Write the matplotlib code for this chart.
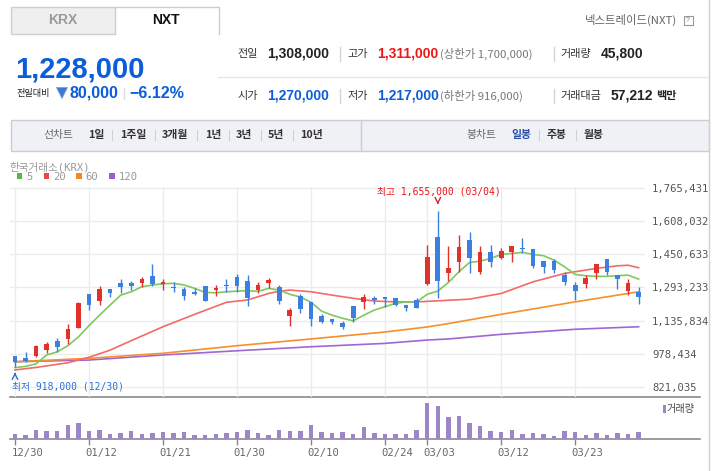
import matplotlib
matplotlib.use('Agg')
import matplotlib.pyplot as plt
import matplotlib.transforms as mtransforms
from matplotlib.patches import Rectangle, Polygon

# ---- data (KRX daily candles) ----
dates = ['12/30', '01/02', '01/05', '01/06', '01/07', '01/08', '01/09', '01/12',
         '01/13', '01/14', '01/15', '01/16', '01/19', '01/20', '01/21', '01/22',
         '01/23', '01/26', '01/27', '01/28', '01/29', '01/30', '02/02', '02/03',
         '02/04', '02/05', '02/06', '02/09', '02/10', '02/11', '02/12', '02/13',
         '02/19', '02/20', '02/23', '02/24', '02/25', '02/26', '02/27', '03/03',
         '03/04', '03/05', '03/06', '03/09', '03/10', '03/11', '03/12', '03/13',
         '03/16', '03/17', '03/18', '03/19', '03/20', '03/23', '03/24', '03/25',
         '03/26', '03/27', '03/30', '03/31']
opens = [968, 958, 969, 996, 1040, 1049, 1102, 1262, 1230, 1286, 1314, 1316, 1316, 1347, 1309,
         1297, 1286, 1273, 1300, 1281, 1306, 1344, 1324, 1281, 1316, 1295, 1159, 1252, 1225, 1158,
         1143, 1124, 1205, 1225, 1242, 1248, 1242, 1210, 1232, 1308, 1534, 1363, 1415, 1518, 1368,
         1460, 1431, 1462, 1479, 1475, 1418, 1418, 1352, 1305, 1309, 1363, 1428, 1352, 1278, 1270]
highs = [970, 986, 1020, 1034, 1053, 1120, 1225, 1262, 1300, 1286, 1333, 1324, 1344, 1406, 1333,
         1317, 1295, 1293, 1300, 1305, 1333, 1355, 1352, 1317, 1339, 1305, 1194, 1262, 1225, 1166,
         1143, 1134, 1205, 1262, 1254, 1248, 1242, 1210, 1242, 1494, 1655, 1489, 1541, 1558, 1489,
         1497, 1479, 1491, 1526, 1475, 1418, 1428, 1365, 1317, 1352, 1404, 1428, 1352, 1332, 1294]
lows = [918, 941, 965, 984, 988, 1023, 1099, 1186, 1210, 1249, 1268, 1282, 1295, 1298, 1282,
        1273, 1235, 1260, 1230, 1254, 1270, 1273, 1206, 1267, 1289, 1213, 1112, 1173, 1112, 1126,
        1121, 1097, 1131, 1192, 1216, 1199, 1206, 1181, 1197, 1305, 1244, 1324, 1368, 1363, 1355,
        1391, 1428, 1413, 1455, 1387, 1363, 1363, 1305, 1233, 1292, 1333, 1352, 1286, 1260, 1216]
closes = [941, 946, 1015, 1025, 1012, 1096, 1221, 1211, 1286, 1268, 1295, 1300, 1333, 1311, 1319,
          1292, 1254, 1263, 1230, 1290, 1301, 1301, 1242, 1305, 1330, 1230, 1186, 1192, 1145, 1129,
          1129, 1105, 1147, 1246, 1233, 1240, 1211, 1196, 1197, 1439, 1324, 1384, 1486, 1434, 1460,
          1413, 1467, 1491, 1475, 1395, 1391, 1376, 1320, 1278, 1336, 1404, 1368, 1333, 1313, 1249]
volumes = [100, 80, 180, 160, 160, 280, 320, 160, 180, 100, 120, 160, 100, 120, 140, 120, 140, 80,
           80, 100, 120, 140, 180, 120, 80, 180, 160, 160, 280, 140, 120, 140, 100, 240, 120, 100,
           100, 100, 180, 720, 660, 440, 460, 320, 260, 160, 140, 180, 100, 120, 100, 60, 160, 140,
           80, 120, 80, 120, 100, 140]

ma5 = [913, 919, 931, 973, 988, 1017, 1059, 1112, 1162, 1210, 1257, 1273, 1297, 1305, 1311,
       1313, 1305, 1289, 1270, 1268, 1273, 1276, 1278, 1275, 1289, 1281, 1261, 1248, 1223, 1181,
       1162, 1147, 1135, 1162, 1186, 1202, 1218, 1225, 1225, 1261, 1276, 1317, 1368, 1412, 1418,
       1431, 1450, 1455, 1460, 1450, 1444, 1423, 1391, 1355, 1349, 1346, 1346, 1349, 1352, 1333]
ma20_idx = [0, 2, 5, 7, 9, 11, 14, 17, 20, 22, 24, 25, 26, 28, 30, 32, 34, 36, 38, 40, 43, 46,
            49, 52, 55, 57, 58, 59]
ma20 = [902, 914, 936, 962, 996, 1041, 1107, 1166, 1223, 1234, 1265, 1276, 1281, 1273, 1257,
        1242, 1229, 1225, 1225, 1230, 1238, 1265, 1320, 1360, 1384, 1396, 1399, 1387]
ma60_idx = [0, 7, 14, 21, 28, 35, 39, 41, 46, 53, 59]
ma60 = [941, 957, 981, 1017, 1049, 1082, 1106, 1122, 1166, 1225, 1273]
ma120_idx = [0, 7, 14, 21, 28, 35, 39, 41, 46, 53, 59]
ma120 = [941, 949, 973, 993, 1012, 1028, 1044, 1049, 1071, 1095, 1107]

price_ticks = [821035, 978434, 1135834, 1293233, 1450633, 1608032, 1765431]
date_tick_idx = [0, 7, 14, 21, 28, 35, 39, 46, 53]

W, H = 715, 471
BLUE = '#0b5ed7'
RED = '#f01414'
C_UP = '#e2302a'
C_DN = '#3b80e0'
SANS = ['Liberation Sans', 'Noto Sans CJK KR']
KR = ['Noto Sans CJK KR', 'DejaVu Sans']
MONO = ['DejaVu Sans Mono', 'Noto Sans CJK KR']

fig = plt.figure(figsize=(W / 100, H / 100), dpi=100)


def box(x0, y0, x1, y1):
    return [x0 / W, 1 - y1 / H, (x1 - x0) / W, (y1 - y0) / H]


bg = fig.add_axes([0, 0, 1, 1])
bg.set_xlim(0, W)
bg.set_ylim(H, 0)
bg.axis('off')

# ---- tabs ----
bg.add_patch(Rectangle((10.5, 6.5), 104.5, 27, fc='#efefef', ec='#cdcdcd', lw=1))
bg.plot([115, 218.5, 218.5], [6.5, 6.5, 33.5], color='#cdcdcd', lw=1)
bg.text(63, 20, 'KRX', ha='center', va='center', fontsize=10, fontweight='bold',
        color='#9a9a9a', family=SANS)
bg.text(166, 20, 'NXT', ha='center', va='center', fontsize=10, fontweight='bold',
        color='#111', family=SANS)
bg.text(677, 20, '넥스트레이드(NXT)', ha='right', va='center', fontsize=8.2,
        color='#666', family=KR)
bg.add_patch(Rectangle((683.5, 15.5), 9, 9, fc='white', ec='#999', lw=0.8))
bg.text(688, 20.3, '?', ha='center', va='center', fontsize=5, color='#777', family=SANS)
bg.plot([708.5, 708.5], [0, H], color='#d0d0d0', lw=1)
bg.plot([218, 708], [76.5, 76.5], color='#e6e6e6', lw=1)

# ---- current price ----
bg.text(15, 78, '1,228,000', ha='left', va='baseline', fontsize=21, fontweight='bold',
        color=BLUE, family=SANS)
bg.text(17, 93.5, '전일대비', ha='left', va='center', fontsize=6.6, color='#222', family=KR)
bg.add_patch(Polygon([[56.5, 87.5], [67.5, 87.5], [62, 98.5]], closed=True, fc='#3d78d8',
                     ec='#7aa0e0', lw=0.6))
bg.text(69, 93.5, '80,000', ha='left', va='center', fontsize=11.5, fontweight='bold',
        color=BLUE, family=SANS)
bg.plot([124, 124], [88, 99], color='#dddddd', lw=1)
bg.text(129, 93.5, '\u22126.12%', ha='left', va='center', fontsize=11.5, fontweight='bold',
        color=BLUE, family=SANS)

# ---- quote table ----
rows = [
    (54, [('전일', 237, '#333', 'normal', KR, 8), ('1,308,000', 267, '#222', 'bold', SANS, 10),
          ('고가', 347, '#333', 'normal', KR, 8), ('1,311,000', 377, RED, 'bold', SANS, 10),
          ('(상한가 1,700,000)', 440, '#777', 'normal', KR, 8.2),
          ('거래량', 560, '#333', 'normal', KR, 8), ('45,800', 601, '#222', 'bold', SANS, 10)]),
    (96, [('시가', 237, '#333', 'normal', KR, 8), ('1,270,000', 267, BLUE, 'bold', SANS, 10),
          ('저가', 347, '#333', 'normal', KR, 8), ('1,217,000', 377, BLUE, 'bold', SANS, 10),
          ('(하한가 916,000)', 440, '#777', 'normal', KR, 8.2),
          ('거래대금', 560, '#333', 'normal', KR, 8), ('57,212', 611, '#222', 'bold', SANS, 10),
          ('백만', 656, '#222', 'bold', KR, 8)]),
]
for y, items in rows:
    for txt, x, col, wt, fam, fs in items:
        bg.text(x, y, txt, ha='left', va='center', fontsize=fs, fontweight=wt, color=col,
                family=fam)
    for sx in (340, 554):
        bg.plot([sx, sx], [y - 7, y + 7], color='#d5d5d5', lw=1)

# ---- toolbar ----
bg.add_patch(Rectangle((10.5, 119.5), 698, 31, fc='#f0f1f5', ec='#c9ccd4', lw=1))
bg.plot([361, 361], [119.5, 150.5], color='#c9ccd4', lw=1)
bg.text(43, 135, '선차트', ha='left', va='center', fontsize=7.8, color='#666', family=KR)
left_items = [('1일', 88), ('1주일', 120), ('3개월', 162), ('1년', 205), ('3년', 236),
              ('5년', 268), ('10년', 300)]
for k, (txt, x) in enumerate(left_items):
    bg.text(x, 135, txt, ha='left', va='center', fontsize=7.8, fontweight='bold',
            color='#333', family=KR)
for sx in (112, 155, 197, 229, 261, 293):
    bg.plot([sx, sx], [130, 140], color='#d0d0d0', lw=0.8)
bg.text(466, 135, '봉차트', ha='left', va='center', fontsize=7.8, color='#666', family=KR)
bg.text(511, 135, '일봉', ha='left', va='center', fontsize=7.8, fontweight='bold',
        color='#2a4da8', family=KR)
bg.text(547, 135, '주봉', ha='left', va='center', fontsize=7.8, fontweight='bold',
        color='#333', family=KR)
bg.text(584, 135, '월봉', ha='left', va='center', fontsize=7.8, fontweight='bold',
        color='#333', family=KR)
for sx in (539, 576):
    bg.plot([sx, sx], [130, 140], color='#d0d0d0', lw=0.8)

# ---- legend ----
bg.text(9, 167, '한국거래소(KRX)', ha='left', va='center', fontsize=7.6, color='#999',
        family=MONO)
for x, c, lab in [(16.5, '#4dbb3c', '5'), (43.5, '#e84848', '20'), (76, '#f5891f', '60'),
                  (109, '#9b5dd0', '120')]:
    bg.add_patch(Rectangle((x, 173), 5.5, 6, fc=c, ec='none'))
    bg.text(x + 9.5, 176.5, lab, ha='left', va='center', fontsize=7.6, color='#999', family=MONO)

# ---- price axes ----
X0, X1 = 10, 645
STEP = 10.57
per_px = (price_ticks[-1] - price_ticks[0]) / (387 - 188)
ax = fig.add_axes(box(X0, 187, X1, 396.7))
ax.set_facecolor('none')
ax.set_xlim((X0 - 15) / STEP, (X1 - 15) / STEP)
ax.set_ylim(price_ticks[0] - (396.7 - 387) * per_px, price_ticks[-1] + (188 - 187) * per_px)
for s in ax.spines.values():
    s.set_visible(False)
ax.yaxis.tick_right()
ax.set_yticks(price_ticks)
ax.set_yticklabels([f'{v:,}' for v in price_ticks], family=MONO, fontsize=7.6, color='#555')
ax.tick_params(axis='y', length=0, pad=5)
ax.set_xticks(date_tick_idx)
ax.tick_params(axis='x', length=0, labelbottom=False)
ax.grid(True, color='#ececec', lw=1)
ax.set_axisbelow(True)

idx = list(range(len(dates)))
k = 1000
for i in idx:
    o, h, l, c = opens[i] * k, highs[i] * k, lows[i] * k, closes[i] * k
    col = C_UP if c >= o else C_DN
    ax.vlines(i, l, h, color=col, lw=1, zorder=3)
    bh = max(abs(c - o), per_px * 1.0)
    ax.bar(i, bh, bottom=min(o, c), width=0.44, color=col, lw=0, zorder=3)

ax.plot(ma120_idx, [v * k for v in ma120], color='#a066d6', lw=1.2, zorder=2)
ax.plot(ma60_idx, [v * k for v in ma60], color='#f5902a', lw=1.2, zorder=2)
ax.plot(ma20_idx, [v * k for v in ma20], color='#f26a6a', lw=1.2, zorder=2)
ax.plot(idx, [v * k for v in ma5], color='#7cc95e', lw=1.2, zorder=2)

hi = highs.index(max(highs))
lo = lows.index(min(lows))
ax.annotate('', xy=(hi, max(highs) * k + 4 * per_px), xytext=(hi, max(highs) * k + 11 * per_px),
            arrowprops=dict(arrowstyle='->', color='#e02020', lw=1))
ax.text(hi + 0.12, max(highs) * k + 19.5 * per_px,
        f'최고 {max(highs) * k:,} ({dates[hi]})', ha='center', va='center',
        fontsize=7, color=RED, family=MONO)
ax.annotate('', xy=(lo, min(lows) * k - 3 * per_px), xytext=(lo, min(lows) * k - 11 * per_px),
            arrowprops=dict(arrowstyle='->', color='#2a6fd6', lw=1))
ax.text(lo - 0.27, min(lows) * k - 19.5 * per_px, f'최저 {min(lows) * k:,} ({dates[lo]})',
        ha='left', va='center', fontsize=7, color='#2a6fd6', family=MONO)

# ---- volume axes ----
vax = fig.add_axes(box(X0, 396.7, X1, 439))
vax.set_facecolor('none')
vax.set_xlim(ax.get_xlim())
vax.set_ylim(0, 42.3 * 20)
for s in vax.spines.values():
    s.set_visible(False)
vax.bar(idx, volumes, width=0.42, color='#9c86c6', lw=0)
vax.set_yticks([])
vax.set_xticks(date_tick_idx)
vax.set_xticklabels([dates[i] for i in date_tick_idx], family=MONO, fontsize=7.6,
                    color='#666', ha='left')
vax.tick_params(axis='x', length=4.5, width=1, color='#888', pad=2)
shift = mtransforms.ScaledTranslation(-3.5 / 100, 0, fig.dpi_scale_trans)
for lbl in vax.get_xticklabels():
    lbl.set_transform(lbl.get_transform() + shift)

bg.plot([X0, 700], [396.7, 396.7], color='#8a8a8a', lw=1.2)
bg.plot([X0, 700], [439, 439], color='#8a8a8a', lw=1.2)
bg.add_patch(Rectangle((663, 405), 2.8, 8, fc='#9c86c6', ec='none'))
bg.text(667, 409, '거래량', ha='left', va='center', fontsize=7.3, color='#444', family=KR)

fig.savefig('out.png', dpi=100)
